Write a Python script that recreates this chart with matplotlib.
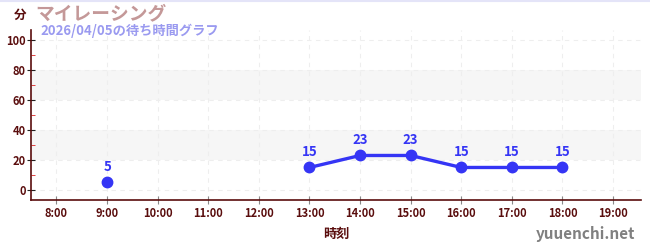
import numpy as np
import matplotlib
matplotlib.use("Agg")
import matplotlib.pyplot as plt
from matplotlib.ticker import MultipleLocator

plt.rcParams['font.family'] = ['Noto Sans CJK JP', 'DejaVu Sans']

hours = [8, 9, 10, 11, 12, 13, 14, 15, 16, 17, 18, 19]
hour_labels = [f"{h}:00" for h in hours]
wait_hours = [9, 10, 11, 12, 13, 14, 15, 16, 17, 18]
wait_minutes = [5, None, None, None, 15, 23, 23, 15, 15, 15]

title = "マイレーシング"
subtitle = "2026/04/05の待ち時間グラフ"

tick_color = "#5a0d0d"
line_color = "#3535f5"

fig = plt.figure(figsize=(6.5, 2.5), dpi=100)
ax = fig.add_axes([0.048, 0.2, 0.938, 0.68])

ax.set_xlim(7.5, 19.55)
ax.set_ylim(-6.7, 106.7)

# shaded horizontal bands
for lo, hi in [(20, 40), (60, 80)]:
    ax.axhspan(lo, hi, color="#f6f6f6", zorder=0, lw=0)

ax.set_xticks(hours)
ax.set_xticklabels(hour_labels)
ax.yaxis.set_major_locator(MultipleLocator(20))
ax.yaxis.set_minor_locator(MultipleLocator(10))
ax.set_yticks([0, 20, 40, 60, 80, 100])

ax.grid(True, which="major", color="#eeeeee", linestyle=(0, (4, 4)), linewidth=0.8, zorder=1)

for s in ["top", "right"]:
    ax.spines[s].set_visible(False)
for s in ["left", "bottom"]:
    ax.spines[s].set_color(tick_color)
    ax.spines[s].set_linewidth(1.2)

ax.tick_params(axis="both", which="major", labelsize=8, labelcolor=tick_color, direction="inout", length=6)
ax.tick_params(axis="x", which="major", color="#888888", pad=2)
ax.tick_params(axis="y", which="major", color="#222222", pad=1)
ax.tick_params(axis="y", which="minor", color="#dd2222", direction="in", length=3)
for lab in ax.get_xticklabels() + ax.get_yticklabels():
    lab.set_fontweight("bold")

y = np.array([np.nan if v is None else v for v in wait_minutes], dtype=float)
ax.plot(wait_hours, y, color=line_color, linewidth=2.4, marker="o", markersize=7.5, zorder=3, clip_on=False)
for hx, v in zip(wait_hours, wait_minutes):
    if v is not None:
        ax.annotate(str(v), (hx, v), xytext=(0, 6), textcoords="offset points",
                    ha="center", va="bottom", color=line_color, fontsize=9.5, fontweight="bold")

ax.set_xlabel("時刻", color=tick_color, fontsize=9.5, fontweight="bold", labelpad=5)

fig.text(0.031, 0.94, "分", color=tick_color, fontsize=9, fontweight="bold", ha="center", va="center")
fig.text(0.054, 0.945, title, color="#c49898", fontsize=13.5, fontweight="bold", ha="left", va="center")
fig.text(0.062, 0.876, subtitle, color="#9a9af0", fontsize=9.5, fontweight="bold", ha="left", va="center")
fig.text(0.977, 0.065, "yuuenchi.net", color="#808080", fontsize=11, fontweight="bold", ha="right", va="center")

# thin border line along the top edge
fig.add_artist(plt.Line2D([0, 1], [0.997, 0.997], color="#e4e4f8", linewidth=1.5, transform=fig.transFigure))

fig.savefig("out.png", dpi=100)
